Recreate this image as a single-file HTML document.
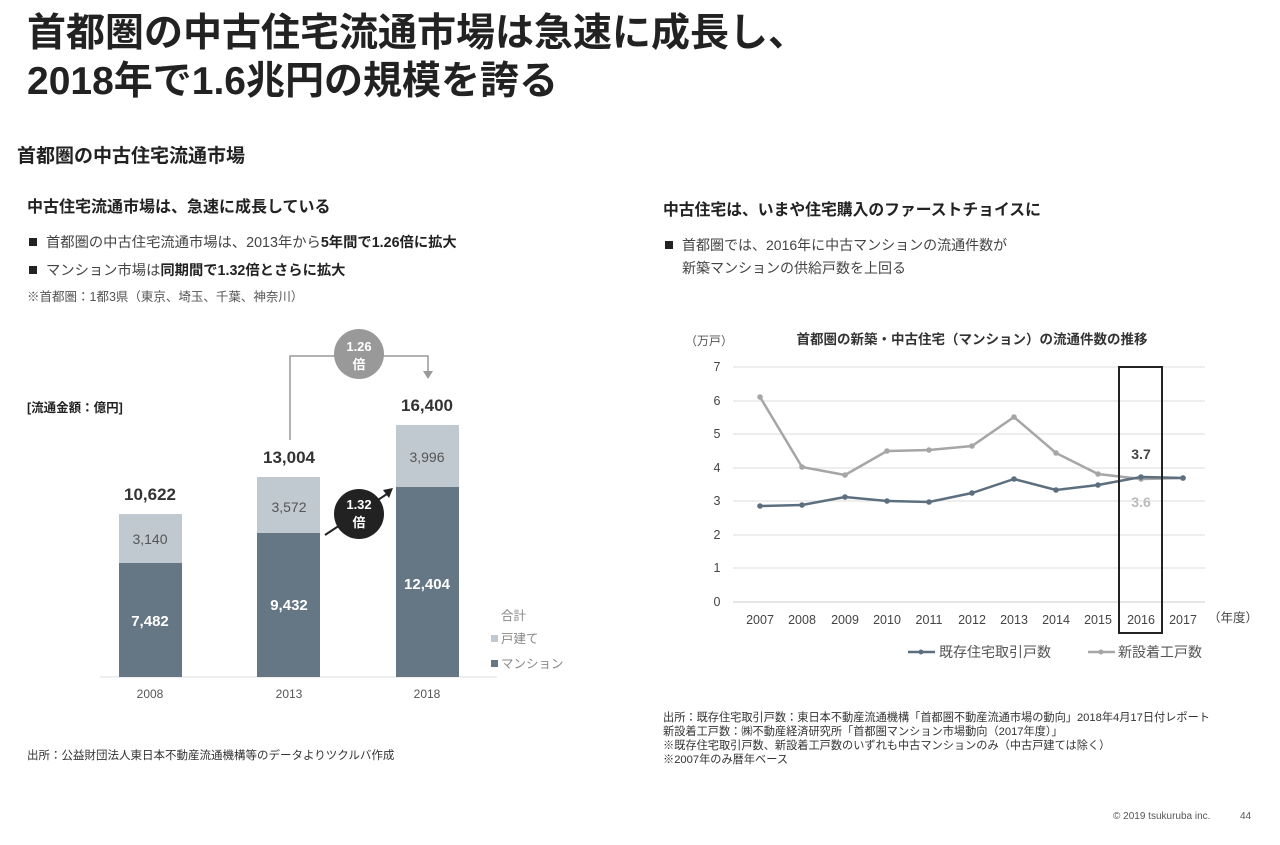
<!DOCTYPE html>
<html><head><meta charset="utf-8"><style>
body{margin:0;background:#fff;}
svg{display:block;font-family:"Liberation Sans","Noto Sans CJK JP",sans-serif;}
</style></head><body>
<svg width="1280" height="845" viewBox="0 0 1280 845">
<text x="27" y="46" font-size="39" font-weight="bold" fill="#222">首都圏の中古住宅流通市場は急速に成長し、</text>
<text x="27" y="94" font-size="39" font-weight="bold" fill="#222">2018年で1.6兆円の規模を誇る</text>
<text x="17" y="162" font-size="19" font-weight="bold" fill="#222">首都圏の中古住宅流通市場</text>
<text x="27" y="212" font-size="16" font-weight="bold" fill="#222">中古住宅流通市場は、急速に成長している</text>
<rect x="29" y="238" width="8" height="8" fill="#222"/>
<text x="46" y="247" font-size="14.3" fill="#444">首都圏の中古住宅流通市場は、2013年から<tspan font-weight="bold" fill="#222">5年間で1.26倍に拡大</tspan></text>
<rect x="29" y="266" width="8" height="8" fill="#222"/>
<text x="46" y="275" font-size="14.3" fill="#444">マンション市場は<tspan font-weight="bold" fill="#222">同期間で1.32倍とさらに拡大</tspan></text>
<text x="27" y="301" font-size="12.5" fill="#555">※首都圏：1都3県（東京、埼玉、千葉、神奈川）</text>
<text x="27" y="412" font-size="12.5" font-weight="bold" fill="#222">[流通金額：億円]</text>
<line x1="100" y1="677" x2="497" y2="677" stroke="#ddd"/>
<rect x="119" y="514" width="63" height="49" fill="#c0c8d0"/>
<rect x="119" y="563" width="63" height="114" fill="#657685"/>
<rect x="257" y="477" width="63" height="56" fill="#c0c8d0"/>
<rect x="257" y="533" width="63" height="144" fill="#657685"/>
<rect x="396" y="425" width="63" height="62" fill="#c0c8d0"/>
<rect x="396" y="487" width="63" height="190" fill="#657685"/>
<g text-anchor="middle">
<text x="150" y="500" font-size="17" font-weight="bold" fill="#333">10,622</text>
<text x="289" y="463" font-size="17" font-weight="bold" fill="#333">13,004</text>
<text x="427" y="411" font-size="17" font-weight="bold" fill="#333">16,400</text>
<text x="150" y="544" font-size="14" fill="#555">3,140</text>
<text x="289" y="512" font-size="14" fill="#555">3,572</text>
<text x="427" y="462" font-size="14" fill="#555">3,996</text>
<text x="150" y="626" font-size="15" font-weight="bold" fill="#fff">7,482</text>
<text x="289" y="610" font-size="15" font-weight="bold" fill="#fff">9,432</text>
<text x="427" y="589" font-size="15" font-weight="bold" fill="#fff">12,404</text>
<text x="150" y="698" font-size="12" fill="#555">2008</text>
<text x="289" y="698" font-size="12" fill="#555">2013</text>
<text x="427" y="698" font-size="12" fill="#555">2018</text>
</g>
<polyline points="290,440 290,356 428,356 428,372" fill="none" stroke="#999" stroke-width="1.5"/>
<polygon points="423,371 433,371 428,379" fill="#999"/>
<circle cx="359" cy="354" r="25" fill="#999"/>
<text x="359" y="351" font-size="13" font-weight="bold" fill="#fff" text-anchor="middle">1.26</text>
<text x="359" y="369" font-size="13" font-weight="bold" fill="#fff" text-anchor="middle">倍</text>
<line x1="325" y1="535" x2="390" y2="492" stroke="#222" stroke-width="2"/>
<polygon points="393,488 383,490 389,498" fill="#222"/>
<circle cx="359" cy="514" r="25" fill="#222"/>
<text x="359" y="509" font-size="13" font-weight="bold" fill="#fff" text-anchor="middle">1.32</text>
<text x="359" y="527" font-size="13" font-weight="bold" fill="#fff" text-anchor="middle">倍</text>
<text x="501" y="620" font-size="12.5" fill="#888">合計</text>
<rect x="491" y="635" width="7" height="7" fill="#c0c8d0"/>
<text x="501" y="643" font-size="12.5" fill="#888">戸建て</text>
<rect x="491" y="660" width="7" height="7" fill="#657685"/>
<text x="501" y="668" font-size="12.5" fill="#888">マンション</text>
<text x="27" y="759" font-size="11.5" fill="#333">出所：公益財団法人東日本不動産流通機構等のデータよりツクルバ作成</text>
<text x="663" y="215" font-size="15.8" font-weight="bold" fill="#222">中古住宅は、いまや住宅購入のファーストチョイスに</text>
<rect x="665" y="241" width="8" height="8" fill="#222"/>
<text x="682" y="250" font-size="14" fill="#444">首都圏では、2016年に中古マンションの流通件数が</text>
<text x="682" y="273" font-size="14" fill="#444">新築マンションの供給戸数を上回る</text>
<text x="685" y="345" font-size="12" fill="#555">（万戸）</text>
<text x="972" y="344" font-size="13.5" font-weight="bold" fill="#333" text-anchor="middle">首都圏の新築・中古住宅（マンション）の流通件数の推移</text>
<g stroke="#ddd">
<line x1="733" y1="367" x2="1205" y2="367"/><line x1="733" y1="401" x2="1205" y2="401"/>
<line x1="733" y1="434" x2="1205" y2="434"/><line x1="733" y1="468" x2="1205" y2="468"/>
<line x1="733" y1="501" x2="1205" y2="501"/><line x1="733" y1="535" x2="1205" y2="535"/>
<line x1="733" y1="568" x2="1205" y2="568"/><line x1="733" y1="602" x2="1205" y2="602" stroke="#ccc"/>
</g>
<g font-size="12.5" fill="#444" text-anchor="middle">
<text x="717" y="371">7</text><text x="717" y="405">6</text><text x="717" y="438">5</text><text x="717" y="472">4</text>
<text x="717" y="505">3</text><text x="717" y="539">2</text><text x="717" y="572">1</text><text x="717" y="606">0</text>
<text x="760" y="624">2007</text><text x="802" y="624">2008</text><text x="845" y="624">2009</text><text x="887" y="624">2010</text>
<text x="929" y="624">2011</text><text x="972" y="624">2012</text><text x="1014" y="624">2013</text><text x="1056" y="624">2014</text>
<text x="1098" y="624">2015</text><text x="1141" y="624">2016</text><text x="1183" y="624">2017</text>
<text x="1233" y="622">（年度）</text>
</g>
<polyline points="760,397 802,467 845,475 887,451 929,450 972,446 1014,417 1056,453 1098,474 1141,479 1183,478" fill="none" stroke="#a6a6a6" stroke-width="2.5"/>
<polyline points="760,506 802,505 845,497 887,501 929,502 972,493 1014,479 1056,490 1098,485 1141,477 1183,478" fill="none" stroke="#5d6f7e" stroke-width="2.5"/>
<g fill="#a6a6a6">
<circle cx="760" cy="397" r="2.8"/><circle cx="802" cy="467" r="2.8"/><circle cx="845" cy="475" r="2.8"/><circle cx="887" cy="451" r="2.8"/><circle cx="929" cy="450" r="2.8"/><circle cx="972" cy="446" r="2.8"/><circle cx="1014" cy="417" r="2.8"/><circle cx="1056" cy="453" r="2.8"/><circle cx="1098" cy="474" r="2.8"/><circle cx="1141" cy="479" r="2.8"/><circle cx="1183" cy="478" r="2.8"/>
</g>
<g fill="#5d6f7e">
<circle cx="760" cy="506" r="2.8"/><circle cx="802" cy="505" r="2.8"/><circle cx="845" cy="497" r="2.8"/><circle cx="887" cy="501" r="2.8"/><circle cx="929" cy="502" r="2.8"/><circle cx="972" cy="493" r="2.8"/><circle cx="1014" cy="479" r="2.8"/><circle cx="1056" cy="490" r="2.8"/><circle cx="1098" cy="485" r="2.8"/><circle cx="1141" cy="477" r="2.8"/><circle cx="1183" cy="478" r="2.8"/>
</g>
<rect x="1119" y="367" width="43" height="266" fill="none" stroke="#222" stroke-width="2"/>
<text x="1141" y="459" font-size="14" font-weight="bold" fill="#444" text-anchor="middle">3.7</text>
<text x="1141" y="507" font-size="14" font-weight="bold" fill="#bbb" text-anchor="middle">3.6</text>
<line x1="908" y1="652" x2="935" y2="652" stroke="#5d6f7e" stroke-width="2.5"/><circle cx="921" cy="652" r="2.5" fill="#5d6f7e"/>
<text x="939" y="657" font-size="14" fill="#555">既存住宅取引戸数</text>
<line x1="1088" y1="652" x2="1115" y2="652" stroke="#a6a6a6" stroke-width="2.5"/><circle cx="1101" cy="652" r="2.5" fill="#a6a6a6"/>
<text x="1118" y="657" font-size="14" fill="#555">新設着工戸数</text>
<g font-size="11.2" fill="#333">
<text x="663" y="721">出所：既存住宅取引戸数：東日本不動産流通機構「首都圏不動産流通市場の動向」2018年4月17日付レポート</text>
<text x="663" y="735">新設着工戸数：㈱不動産経済研究所「首都圏マンション市場動向（2017年度）」</text>
<text x="663" y="749">※既存住宅取引戸数、新設着工戸数のいずれも中古マンションのみ（中古戸建ては除く）</text>
<text x="663" y="763">※2007年のみ暦年ベース</text>
</g>
<text x="1113" y="819" font-size="10" fill="#555">© 2019 tsukuruba inc.</text>
<text x="1240" y="819" font-size="10" fill="#555">44</text>
</svg>
</body></html>
